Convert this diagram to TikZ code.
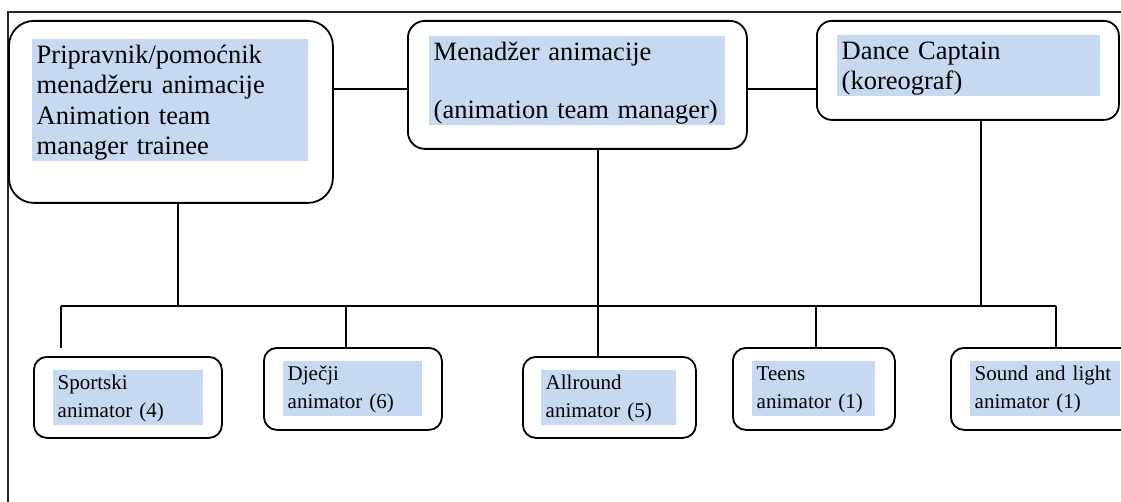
\documentclass[tikz,border=0pt]{standalone}
\usepackage{fontspec}
\setmainfont{Liberation Serif}
\usetikzlibrary{positioning}
\definecolor{hlblue}{HTML}{C6D9F1}
\def\bigtext{\fontsize{26.5pt}{30.5pt}\selectfont}
\def\smalltext{\fontsize{21pt}{27.5pt}\selectfont}
\def\tallst{\rule[-6.5pt]{0pt}{30.5pt}}
\def\shortst{\rule[-7.5pt]{0pt}{27pt}}
\tikzset{
    box/.style={draw, line width=1.8pt, inner sep=0pt, anchor=north west},
    tag/.style={fill=hlblue, inner xsep=4.5pt, inner ysep=0pt, anchor=north west, align=left, font=\bigtext},
    smalltag/.style={tag, font=\smalltext},
    link/.style={line width=1.3pt}
}

\begin{document}
\begin{tikzpicture}[x=1pt, y=-1pt]
    \clip (0,0) rectangle (1121,502);
    % frame
    \draw[line width=1.1pt, black!85] (8,502) -- (8,12) -- (1121,12);
    % managers
    \node[box, rounded corners=25pt, minimum width=324pt, minimum height=182pt] (m1) at (8,20) {};
    \node[box, rounded corners=17pt, minimum width=339pt, minimum height=128pt] (m2) at (407,20) {};
    \node[box, rounded corners=15pt, minimum width=302pt, minimum height=99pt] (m3) at (816,20) {};
    \node[tag, text width=267pt] (tm1) at (32,39) {\tallst Pripravnik/pomoćnik\\ menadžeru animacije\\ Animation team\\ manager trainee\tallst};
    \node[tag, text width=287pt] (tm2) at (429,36) {\tallst Menadžer animacije\\[27.5pt] (animation team manager)\tallst};
    \node[tag, text width=254pt] (tm3) at (837,35) {\tallst Dance Captain\\ (koreograf)\tallst};
    % staff
    \node[box, rounded corners=13pt, minimum width=188pt, minimum height=81pt] (s1) at (33,356) {};
    \node[box, rounded corners=13pt, minimum width=178pt, minimum height=82pt] (s2) at (263,347) {};
    \node[box, rounded corners=13pt, minimum width=173pt, minimum height=81pt] (s3) at (522,356) {};
    \node[box, rounded corners=13pt, minimum width=162pt, minimum height=82pt] (s4) at (732,347) {};
    \node[box, rounded corners=13pt, minimum width=190pt, minimum height=82pt] (s5) at (950,347) {};
    \node[smalltag, text width=141pt] (ts1) at (53,370) {\shortst Sportski\\ animator (4)\shortst};
    \node[smalltag, text width=130pt] (ts2) at (283,361) {\shortst Dječji\\ animator (6)\shortst};
    \node[smalltag, text width=126pt] (ts3) at (541,370) {\shortst Allround\\ animator (5)\shortst};
    \node[smalltag, text width=114pt] (ts4) at (752,361) {\shortst Teens\\ animator (1)\shortst};
    \node[smalltag, text width=141pt] (ts5) at (970,361) {\shortst Sound and light\\ animator (1)\shortst};
    % links
    \coordinate (tie) at (0,89);
    \draw[link] (m1.east |- tie) -- (m2.west |- tie);
    \draw[link] (m2.east |- tie) -- (m3.west |- tie);
    \coordinate (j0) at (61,306);
    \coordinate (j1) at (178,306);
    \coordinate (j2) at (346,306);
    \coordinate (j3) at (598,306);
    \coordinate (j4) at (816,306);
    \coordinate (j5) at (981,306);
    \coordinate (j6) at (1056,306);
    \coordinate (e0) at (61,348);
    \draw[link] (j0) -- (j6);
    \draw[link] (m1.south -| j1) -- (j1);
    \draw[link] (m2.south -| j3) -- (s3.north -| j3);
    \draw[link] (m3.south -| j5) -- (j5);
    \draw[link] (j0) -- (e0);
    \foreach \j/\s in {j2/s2, j4/s4, j6/s5}
        \draw[link] (\j) -- (\s.north -| \j);
\end{tikzpicture}
\end{document}
